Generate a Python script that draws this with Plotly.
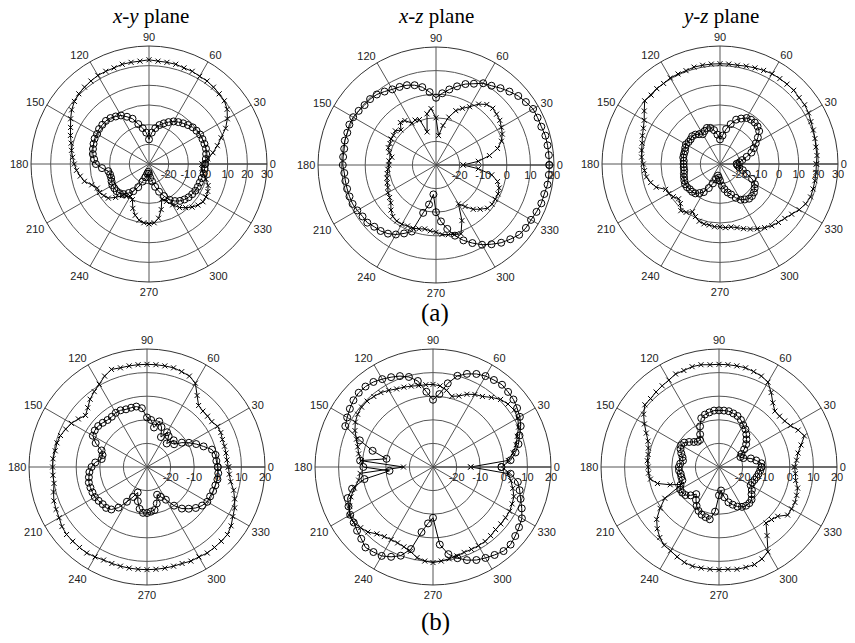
import plotly.graph_objects as go

# angle samples (deg), shared by every trace
theta = [0, 5, 10, 15, 20, 25, 30, 35, 40, 45, 50, 55,
         60, 65, 70, 75, 80, 85, 90, 95, 100, 105, 110, 115,
         120, 125, 130, 135, 140, 145, 150, 155, 160, 165, 170, 175,
         180, 185, 190, 195, 200, 205, 210, 215, 220, 225, 230, 235,
         240, 245, 250, 255, 260, 265, 270, 275, 280, 285, 290, 295,
         300, 305, 310, 315, 320, 325, 330, 335, 340, 345, 350, 355]

angle_ticks = [0, 30, 60, 90, 120, 150, 180, 210, 240, 270, 300, 330]

# (a) x-y plane
a_xy_cross = [-3, 0, 3, 6, 9, 13, 16, 18.5, 20, 20.5, 21, 21.5,
              21.5, 22, 22, 22.5, 22.5, 22.5, 23, 22.5, 22.5, 22.5, 22, 22,
              22, 21.5, 21, 20.5, 19.5, 18, 16, 14, 12.5, 11, 10, 9,
              8, 7, 5.5, 4, 1, -1, -1, -2, -3, -6, -9, -10,
              -11, -10, -6, -3, -1, 0, 0.5, 0, -2, -6, -11, -9,
              -6, -3, -1, 1, 2.5, 3.5, 3.5, 3, 2, 0, -2, -3]
a_xy_circle = [-1.5, -1, -0.5, 0, 0, 0, 0, -0.5, -1, -2, -3, -4,
               -5, -6.5, -8, -9.5, -11.5, -14, -17.5, -14, -11.5, -9, -5.5, -3.5,
               -1.5, -0.5, 0.5, 1, 1, 1, 0.5, 0.5, 0, -0.5, -1, -2,
               -3, -6, -9, -9.5, -9.5, -9, -8.5, -8.5, -8.5, -9, -10, -12,
               -14, -17, -20.5, -23, -25, -26, -25, -23, -21, -18, -15, -12,
               -9, -7, -5.5, -4.5, -3.7, -3.2, -2.8, -2.6, -2.5, -2.2, -1.8, -1.6]

# (a) x-z plane
a_xz_cross = [-18.5, -12, -7, -3, -0.5, 1, 2, 3, 3.5, 4, 3.5, 1.5,
              -1.5, -3.5, -5.5, -9, -13, -17.5, -10, -6, -8, -15.5, -9.5, -9,
              -9.5, -7, -6.5, -9, -7.5, -8, -8, -8.5, -8.5, -9.5, -11, -10,
              -10, -9.5, -9, -8.5, -8, -7.5, -6.5, -6, -5, -3, -1.5, -1,
              -1, -1.5, -1.5, -2, -2.5, -2, -1.5, -0.5, 0, 0.5, 1, -4,
              -11, -8.5, -5.5, -3.5, -1.5, -1, -1, -1, -1.5, -3, -6, -12]
a_xz_circle = [18, 18, 18, 18, 17.5, 17.5, 17.5, 16.5, 15.5, 14, 12.5, 11,
               10, 8, 6.5, 4.5, 2.5, 0.5, -1.5, 1, 3.5, 5, 6, 6.5,
               7, 8, 9, 9.5, 9.5, 10, 10.5, 10.5, 10, 10, 9.5, 9.5,
               9.5, 9, 9, 9, 9, 9, 8.5, 8, 8, 7, 6.5, 5.5,
               4, 2, 0, -9, -13, -17.5, -10, -6, -2.5, 1, 4, 6.5,
               9, 11, 13, 14.5, 16, 16.5, 16.5, 17, 17.5, 17.5, 18, 18]

# (a) y-z plane
a_yz_cross = [19, 19.5, 19.5, 20, 20.5, 21, 22, 22.5, 22.5, 23, 23, 23,
              23, 22.5, 22, 21.5, 21, 21, 21, 21, 21, 21, 20.5, 20.5,
              20.5, 20, 20, 19.5, 20, 17, 14.5, 13, 12, 11, 10.5, 10,
              9, 8.5, 8, 6.5, 4.5, 0.5, 0, -1, -2.5, -1.5, 1, 0,
              -2, -0.5, 1, 1.5, 1.5, 2, 2, 2.5, 2.5, 3.5, 5, 6.5,
              8, 9.5, 11, 12, 13, 14.5, 16.5, 18, 19, 19, 19, 19]
a_yz_circle = [-21.5, -20, -18.5, -16, -13, -11, -9, -6.5, -4, -3, -2.5, -2.5,
               -3, -4.5, -6, -9, -12, -15.5, -17.5, -15, -12.5, -11, -10.5, -11.5,
               -12.5, -11.5, -10.5, -10, -10.5, -10.5, -10, -10.5, -11, -11, -11, -11.5,
               -11.5, -11.5, -11.5, -11, -10.5, -10, -9.5, -9.5, -10, -10, -10.5, -12,
               -13.5, -16.5, -19.5, -22, -24, -23, -21.5, -19, -17, -15, -13.5, -11,
               -9, -8, -7, -7, -7.5, -8.5, -9.5, -12, -15.5, -18, -20, -21]

# (b) x-y plane
b_xy_cross = [4.5, 4, 4, 4, 4, 4.5, 4.5, 3.5, 3.5, 3.5, 4, 7,
              11, 12.5, 13, 13.5, 13.5, 13.5, 13.5, 13.5, 13.5, 13.5, 14, 12.5,
              10.5, 9, 7.5, 5.5, 4, 5.5, 7, 8, 9, 9.5, 9.5, 10,
              10, 10, 10, 11, 12, 12.5, 13, 14, 14.5, 14.5, 14.5, 14.5,
              14, 13.5, 13.5, 13.5, 13.5, 13.5, 13.5, 13.5, 13.5, 13.5, 13.5, 14,
              14, 14.5, 14.5, 14.5, 14.5, 13.5, 12, 11, 9.5, 8, 6, 5]
b_xy_circle = [0, -0.5, -0.5, -1.5, -4.5, -7, -9.5, -12, -15, -14, -17, -14,
               -13, -16, -12, -10, -13, -10, -9, -5, -4, -4, -4, -3.5,
               -3.5, -4, -4, -3.5, -3, -3, -3.5, -6, -9.5, -10.5, -10.5, -8,
               -6.5, -5.5, -5, -4.5, -4.5, -4.5, -4.5, -5, -5.5, -5.5, -6.5, -9,
               -13, -16, -18.5, -15, -12, -10.5, -10.5, -11, -11.5, -14, -17.5, -16,
               -14, -10, -7, -5, -3, -1.5, -0.5, -0.5, -0.2, 0, 0.3, 0.3]

# (b) x-z plane
b_xz_cross = [-14, 2, 4.5, 6.5, 8, 10, 11.5, 12, 11.5, 10.5, 8.5, 6.5,
              5.5, 4, 2, 1, 3, 4.5, 5, 5, 5, 5.5, 6, 6.5,
              7.5, 8.5, 9, 9.5, 9.5, 9, 8, 6.5, 4.5, 3, 2, 0.5,
              -17.5, 1, 2, 4.5, 7, 9, 11, 11, 10, 9, 7, 6,
              5.5, 5.5, 6, 7, 9, 10, 10.5, 10, 9.5, 9, 8.5, 8.5,
              8.5, 8.5, 8, 7.5, 7.5, 7.5, 7.5, 7, 6.5, 5, 3.5, 2]
b_xz_circle = [-1, 3, 5.5, 7.5, 9, 11, 12.5, 13.5, 14.5, 15, 15.5, 15,
               14.5, 13.5, 12, 10, 6, 1, -1.5, 2, 7, 9.5, 11, 12,
               13, 14, 14.5, 14.5, 14, 13, 12, 11, 3, -3.5, -10, 1,
               -0.5, -11.5, -0.5, 5.5, 8.5, 9.5, 10.5, 11, 12, 13, 14.5, 14,
               13.5, 12, 10, 6, -2, -6, -8.5, 3, 7.5, 10, 12, 13.5,
               14.5, 15.5, 16.5, 16.5, 15.5, 14.5, 13.5, 11.5, 9.5, 8, 6.5, 3]

# (b) y-z plane
b_yz_cross = [2, 3, 4, 6, 8.5, 7, 5, 4, 3.5, 3.5, 5.5, 8.5,
              11.5, 12.5, 13, 13.5, 13.5, 13.5, 13.5, 13.5, 14, 14, 13.5, 13.5,
              12.5, 12, 11.5, 11, 11, 9, 6.5, 4, 2, 1, 0.5, 0.5,
              0, 0, -0.5, -3, -8, -12.5, -3.5, 0.5, 4.5, 7, 9, 10.5,
              11, 12, 13, 13.5, 13.5, 13.5, 13.5, 13.5, 14, 14, 14, 13,
              11.5, 5.5, 1, 1.5, 2.5, 5.5, 5.5, 5.5, 5, 4.5, 3, 2.5]
b_yz_circle = [-12, -12, -14, -16, -19, -20, -19, -17, -15, -13.5, -12, -10.5,
               -9.5, -8, -7, -6.5, -6, -6, -6, -6, -6.5, -7, -8, -11,
               -14, -16, -16, -15, -13.5, -12, -11.5, -12, -13, -14, -14.5, -13.5,
               -13, -13, -13.5, -13.5, -13.5, -12, -11, -11, -11.5, -13, -15, -13,
               -11, -9.5, -8.5, -8, -7.5, -11, -18, -20, -17, -14.5, -13, -11.5,
               -10.5, -10, -10, -10.5, -12, -13, -14.5, -14.5, -14, -13.5, -13, -12.5]

plane_titles = ["<i>x</i>-<i>y</i> plane", "<i>x</i>-<i>z</i> plane", "<i>y</i>-<i>z</i> plane"]
row_labels = ["(a)", "(b)"]

panels = [
    (a_xy_cross, a_xy_circle, 30),
    (a_xz_cross, a_xz_circle, 20),
    (a_yz_cross, a_yz_circle, 30),
    (b_xy_cross, b_xy_circle, 20),
    (b_xz_cross, b_xz_circle, 20),
    (b_yz_cross, b_yz_circle, 20),
]

W, H = 855, 643
R = 118
centers = [(149, 164), (436, 165), (720, 164),
           (147, 467), (433, 467), (719, 467)]


def px(x):
    return x / W


def py(y):
    return 1 - y / H


fig = go.Figure()
layout = {}
tick_font = dict(family="Liberation Sans, Arial, sans-serif", size=11, color="#222")

for i, ((cross, circ, rmax), (cx, cy)) in enumerate(zip(panels, centers)):
    name = "polar" if i == 0 else f"polar{i + 1}"
    th = theta + [360]
    rticks = list(range(-20, rmax + 1, 10))
    fig.add_trace(go.Scatterpolar(
        r=cross + cross[:1], theta=th, mode="lines+markers", subplot=name,
        line=dict(color="black", width=1),
        marker=dict(symbol="x-thin", size=5, line=dict(color="black", width=1)),
        showlegend=False,
    ))
    fig.add_trace(go.Scatterpolar(
        r=circ + circ[:1], theta=th, mode="lines+markers", subplot=name,
        line=dict(color="black", width=1),
        marker=dict(symbol="circle-open", size=7, color="black", line=dict(width=1)),
        showlegend=False,
    ))
    layout[name] = dict(
        domain=dict(x=[px(cx - R), px(cx + R)], y=[py(cy + R), py(cy - R)]),
        bgcolor="white",
        angularaxis=dict(
            direction="counterclockwise", rotation=0,
            tickmode="array", tickvals=angle_ticks,
            ticktext=[str(a) for a in angle_ticks],
            showline=True, linecolor="#333", linewidth=1,
            gridcolor="#555", gridwidth=1, ticks="", tickfont=tick_font,
        ),
        radialaxis=dict(
            range=[-30, rmax], tickmode="array", tickvals=rticks,
            ticktext=[str(v) for v in rticks],
            angle=0, tickangle=0, side="clockwise",
            showline=True, linecolor="#333", linewidth=1,
            gridcolor="#555", gridwidth=1, ticks="", tickfont=tick_font,
        ),
    )

serif = "Liberation Serif, Times New Roman, serif"
annotations = []
for title, x in zip(plane_titles, [150, 436, 720]):
    annotations.append(dict(
        text=title, x=px(x), y=py(16), xref="paper", yref="paper",
        xanchor="center", yanchor="middle", showarrow=False,
        font=dict(family=serif, size=21, color="black"),
    ))
for label, y in zip(row_labels, [313, 622]):
    annotations.append(dict(
        text=label, x=px(435), y=py(y), xref="paper", yref="paper",
        xanchor="center", yanchor="middle", showarrow=False,
        font=dict(family=serif, size=25, color="black"),
    ))

fig.update_layout(
    width=W, height=H,
    margin=dict(l=0, r=0, t=0, b=0),
    paper_bgcolor="white",
    annotations=annotations,
    **layout,
)

# drop the default 8px page margin so the figure fills the window
fig.write_html(
    "out.html",
    config={"displayModeBar": False},
    post_script="document.body.style.margin = '0';",
)
